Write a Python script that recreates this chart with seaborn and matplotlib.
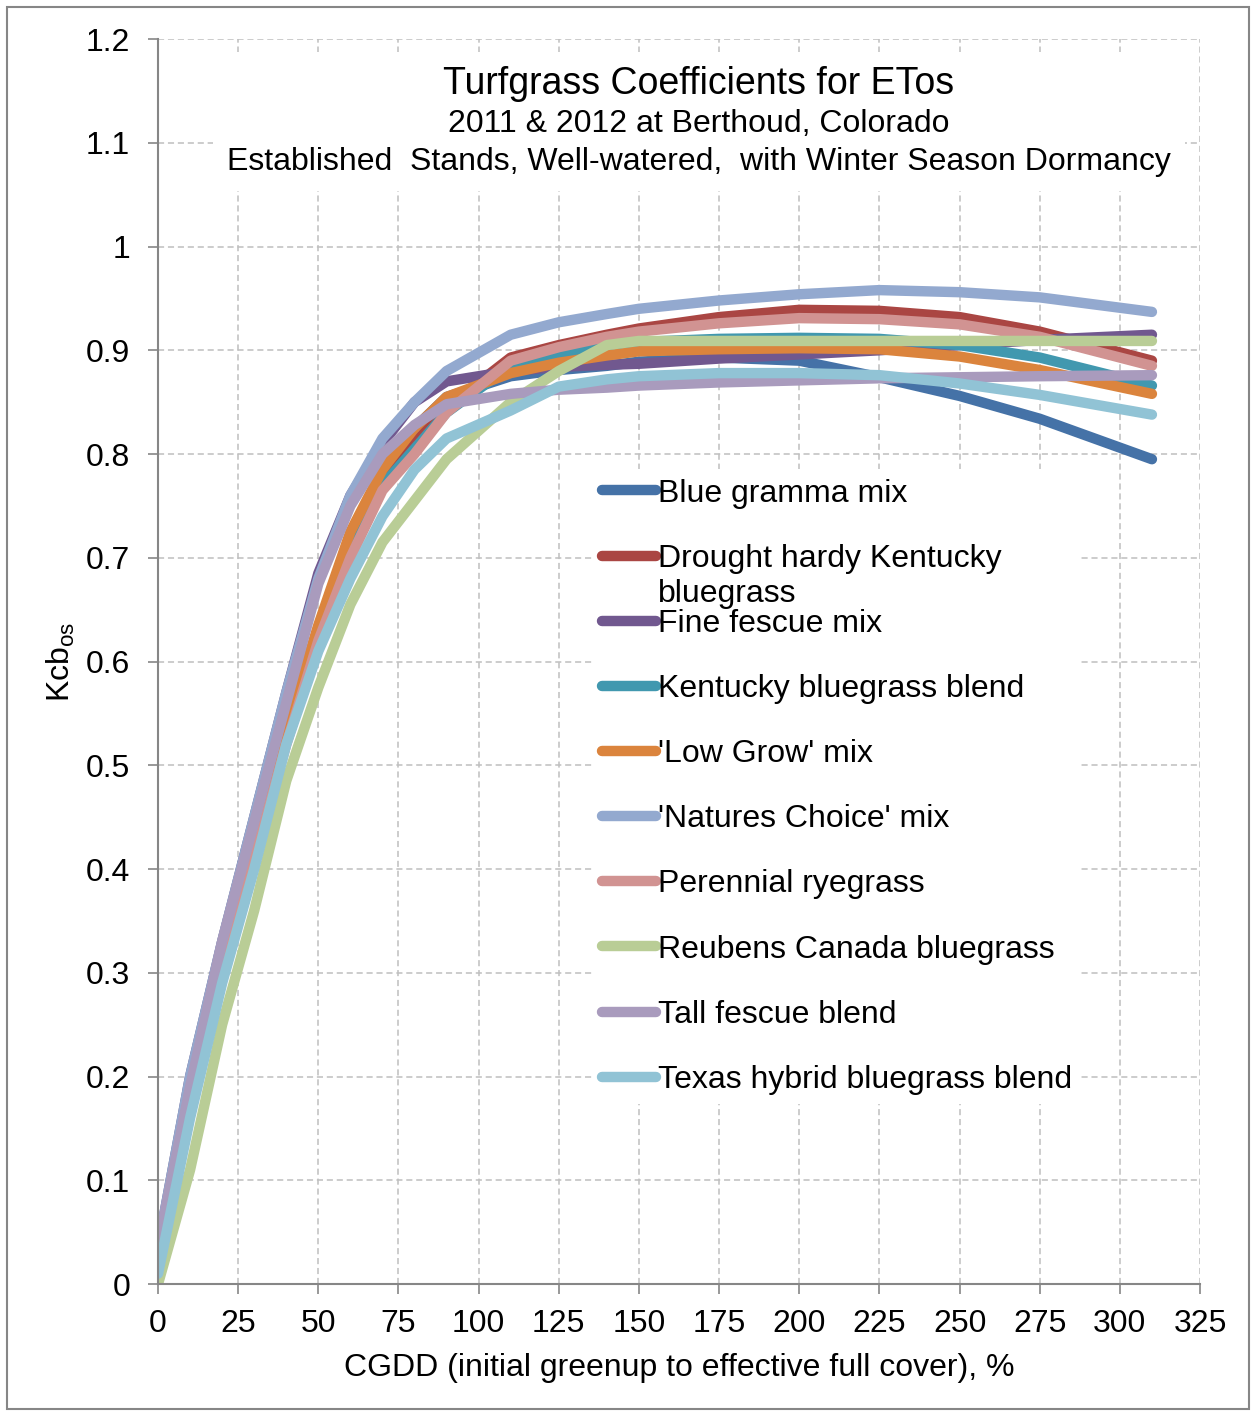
import pandas as pd
import matplotlib
matplotlib.use("Agg")
import matplotlib.pyplot as plt
import seaborn as sns
from matplotlib.patches import Rectangle
from matplotlib.offsetbox import TextArea, VPacker, AnchoredOffsetbox

# x positions (CGDD, %) shared by all series
cgdd = [0, 10, 20, 30, 40, 50, 60, 70, 80, 90, 110, 125, 140, 150, 175, 200, 225, 250, 275, 310]

blue_gramma = [0.02, 0.185, 0.31, 0.425, 0.535, 0.63, 0.72, 0.78, 0.825, 0.855, 0.875, 0.881,
               0.885, 0.889, 0.893, 0.89, 0.874, 0.856, 0.834, 0.795]
drought_kbg = [0.02, 0.175, 0.30, 0.415, 0.53, 0.625, 0.71, 0.77, 0.81, 0.845, 0.893, 0.905,
               0.915, 0.921, 0.932, 0.939, 0.938, 0.932, 0.918, 0.89]
fine_fescue = [0.035, 0.20, 0.33, 0.45, 0.57, 0.685, 0.76, 0.81, 0.85, 0.87, 0.88, 0.884,
               0.886, 0.887, 0.892, 0.896, 0.90, 0.905, 0.91, 0.915]
kbg_blend = [0.02, 0.175, 0.30, 0.415, 0.53, 0.625, 0.71, 0.77, 0.805, 0.84, 0.885, 0.897,
             0.905, 0.908, 0.911, 0.912, 0.911, 0.905, 0.893, 0.866]
low_grow = [0.02, 0.185, 0.31, 0.425, 0.535, 0.635, 0.725, 0.785, 0.825, 0.855, 0.878, 0.888,
            0.895, 0.899, 0.901, 0.902, 0.901, 0.894, 0.881, 0.858]
natures_choice = [0.035, 0.20, 0.33, 0.45, 0.57, 0.68, 0.76, 0.815, 0.85, 0.88, 0.915, 0.927,
                  0.935, 0.94, 0.948, 0.954, 0.958, 0.956, 0.951, 0.937]
perennial_rye = [0.015, 0.17, 0.295, 0.41, 0.52, 0.62, 0.70, 0.765, 0.80, 0.84, 0.89, 0.903,
                 0.913, 0.918, 0.926, 0.931, 0.930, 0.925, 0.913, 0.885]
reubens = [0.0, 0.11, 0.25, 0.36, 0.485, 0.575, 0.655, 0.715, 0.755, 0.795, 0.85, 0.88,
           0.905, 0.909, 0.909, 0.909, 0.909, 0.909, 0.909, 0.909]
tall_fescue = [0.035, 0.19, 0.33, 0.445, 0.56, 0.675, 0.75, 0.80, 0.828, 0.848, 0.858, 0.862,
               0.864, 0.866, 0.869, 0.871, 0.873, 0.874, 0.875, 0.876]
texas_hybrid = [0.01, 0.16, 0.29, 0.40, 0.52, 0.61, 0.68, 0.74, 0.785, 0.815, 0.842, 0.865,
                0.872, 0.875, 0.878, 0.878, 0.876, 0.868, 0.857, 0.838]

varieties = [
    "Blue gramma mix",
    "Drought hardy Kentucky bluegrass",
    "Fine fescue mix",
    "Kentucky bluegrass blend",
    "'Low Grow' mix",
    "'Natures Choice' mix",
    "Perennial ryegrass",
    "Reubens Canada bluegrass",
    "Tall fescue blend",
    "Texas hybrid bluegrass blend",
]
series = [blue_gramma, drought_kbg, fine_fescue, kbg_blend, low_grow,
          natures_choice, perennial_rye, reubens, tall_fescue, texas_hybrid]
colors = ["#4572A7", "#AA4643", "#71588F", "#4198AF", "#DB843D",
          "#93A9CF", "#D19392", "#B9CD96", "#A99BBD", "#91C3D5"]

df = pd.concat(
    [pd.DataFrame({"cgdd": cgdd, "kcb": vals, "variety": name})
     for name, vals in zip(varieties, series)],
    ignore_index=True,
)

sns.set_theme(style="white")
plt.rcParams["font.family"] = ["Liberation Sans", "DejaVu Sans"]
plt.rcParams["mathtext.default"] = "regular"
plt.rcParams["text.color"] = "black"
plt.rcParams["axes.labelcolor"] = "black"

FS = 23
GRAY = "#868686"

fig = plt.figure(figsize=(12.55, 14.14), dpi=100)
ax = fig.add_axes([0.1259, 0.0919, 0.8303, 0.8805])

sns.lineplot(
    data=df, x="cgdd", y="kcb", hue="variety", hue_order=varieties,
    palette=colors, linewidth=7.5, legend=False, ax=ax,
    solid_capstyle="round", solid_joinstyle="round",
)

ax.set_xlim(0, 325)
ax.set_ylim(0, 1.2)
ax.set_xticks(range(0, 326, 25))
yt = [i / 10 for i in range(13)]
ax.set_yticks(yt)
ax.set_yticklabels([f"{v:g}" for v in yt])

ax.grid(True, color="#BFBFBF", linestyle=(0, (4, 2.5)), linewidth=1.1)
ax.set_axisbelow(True)
for side in ["top", "right"]:
    ax.spines[side].set_visible(False)
for side in ["left", "bottom"]:
    ax.spines[side].set_color(GRAY)
    ax.spines[side].set_linewidth(1.5)

ax.tick_params(axis="both", which="major", direction="out", length=7, width=1.2,
               color=GRAY, labelsize=FS, labelcolor="black")
ax.tick_params(axis="y", pad=13, left=True)
ax.tick_params(axis="x", pad=11, bottom=True)

ax.set_xlabel("CGDD (initial greenup to effective full cover), %", fontsize=FS, labelpad=10)
ax.set_ylabel("Kcb$_{os}$", fontsize=FS, labelpad=6.5)

# title block with white background
t1 = TextArea("Turfgrass Coefficients for ETos", textprops=dict(fontsize=27, color="black"))
t2 = TextArea("2011 & 2012 at Berthoud, Colorado", textprops=dict(fontsize=FS, color="black"))
t3 = TextArea("Established  Stands, Well-watered,  with Winter Season Dormancy",
              textprops=dict(fontsize=FS, color="black"))
pack = VPacker(children=[t1, t2, t3], align="center", pad=0, sep=5.5)
title_box = AnchoredOffsetbox(loc="upper center", child=pack, pad=0.9, frameon=True,
                              bbox_to_anchor=(0.519, 0.9896), bbox_transform=ax.transAxes,
                              borderpad=0)
title_box.patch.set_facecolor("white")
title_box.patch.set_edgecolor("none")
title_box.patch.set_boxstyle("square", pad=0)
ax.add_artist(title_box)

# legend
handles = ax.get_lines()[:len(varieties)]
labels = list(varieties)
labels[1] = "Drought hardy Kentucky"
leg = ax.legend(
    handles, labels, loc="upper left", bbox_to_anchor=(0.4166, 0.6546),
    fontsize=FS, frameon=True, fancybox=False, framealpha=1, edgecolor="none",
    facecolor="white", handlelength=1.7, handletextpad=0.05, labelspacing=1.1,
    borderpad=0.3, borderaxespad=0,
)
leg_txt = leg.get_texts()[1]
ax.annotate("bluegrass", xy=(0, 0), xycoords=leg_txt, xytext=(0, -3.5),
            textcoords="offset points", va="top", ha="left", fontsize=FS,
            color="black", zorder=10)

# outer chart border
fig.patches.append(Rectangle((0.0056, 0.0035), 0.9896, 0.9915, transform=fig.transFigure,
                             fill=False, edgecolor=GRAY, linewidth=1.5))

fig.savefig("out.png", dpi=100)
